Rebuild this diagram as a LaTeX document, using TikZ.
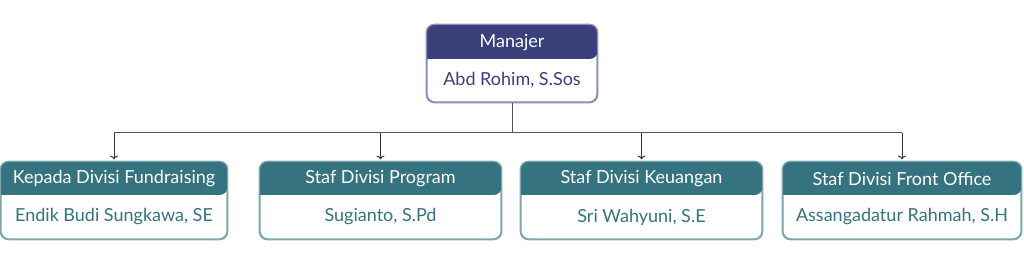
\documentclass[tikz,border=0pt]{standalone}
\usepackage{fontspec}
\setmainfont{Lato}
\usepackage{xcolor}
\usetikzlibrary{arrows.meta,calc}
\definecolor{navyhead}{HTML}{3A417A}
\definecolor{navyline}{HTML}{8C91B9}
\definecolor{tealhead}{HTML}{367380}
\definecolor{tealline}{HTML}{7EA6AD}
\definecolor{busline}{HTML}{555555}

\begin{document}
\begin{tikzpicture}[x=1pt,y=1pt,>=To,line join=round,
    orgbox/.style={draw=#1,line width=1.3pt,fill=white,rounded corners=8pt,
      minimum height=77pt,inner sep=0pt},
    headtext/.style={text=white,font=\fontsize{18}{21}\selectfont},
    nametext/.style={text=#1,font=\fontsize{18}{21}\selectfont},
    bus/.style={line width=1pt,draw=busline}]
  \useasboundingbox (0,0) rectangle (1024,273);
  % manajer
  \node[orgbox=navyline,minimum width=170pt] (M) at (512,209.5) {};
  \fill[navyhead] (M.west |- 0,214) [rounded corners=8pt] |- (M.north) -| (M.east |- 0,214) [sharp corners] -- cycle;
  \draw[navyline,line width=1.3pt,rounded corners=8pt] (M.north west) rectangle (M.south east);
  \node[headtext] (Mt) at (512,230.5) {Manajer};
  \node[nametext=navyhead] (Mn) at (512,192.5) {Abd Rohim, S.Sos};
  % divisi
  \node[orgbox=tealline,minimum width=226pt] (B1) at (114,72.5) {};
  \node[orgbox=tealline,minimum width=241pt] (B2) at (380.5,72.5) {};
  \node[orgbox=tealline,minimum width=241pt] (B3) at (641.5,72.5) {};
  \node[orgbox=tealline,minimum width=238pt] (B4) at (902,72.5) {};
  \foreach \b in {B1,B2,B3,B4} {
    \fill[tealhead] (\b.west |- 0,78) [rounded corners=8pt] |- (\b.north) -| (\b.east |- 0,78) [sharp corners] -- cycle;
    \draw[tealline,line width=1.3pt,rounded corners=8pt] (\b.north west) rectangle (\b.south east);
  }
  \node[headtext] (B1t) at (B1.center |- 0,94.5) {Kepada Divisi Fundraising};
  \node[headtext] (B2t) at (B2.center |- 0,94.5) {Staf Divisi Program};
  \node[headtext] (B3t) at (B3.center |- 0,94.5) {Staf Divisi Keuangan};
  \node[headtext] (B4t) at (B4.center |- 0,94.5) {Staf Divisi Front Office};
  \node[nametext=tealhead] (B1n) at (B1.center |- 0,56) {Endik Budi Sungkawa, SE};
  \node[nametext=tealhead] (B2n) at (B2.center |- 0,56) {Sugianto, S.Pd};
  \node[nametext=tealhead] (B3n) at (B3.center |- 0,56) {Sri Wahyuni, S.E};
  \node[nametext=tealhead] (B4n) at (B4.center |- 0,56) {Assangadatur Rahmah, S.H};
  % garis
  \coordinate (J) at (512,140);
  \draw[bus] (M.south) -- (J);
  \draw[bus] (J -| B1.north) -- (J -| B4.north);
  \foreach \b in {B1,B2,B3,B4}
    \draw[bus,->,draw=black!80] (J -| \b.north) -- ($(\b.north)+(0,2)$);
\end{tikzpicture}
\end{document}
